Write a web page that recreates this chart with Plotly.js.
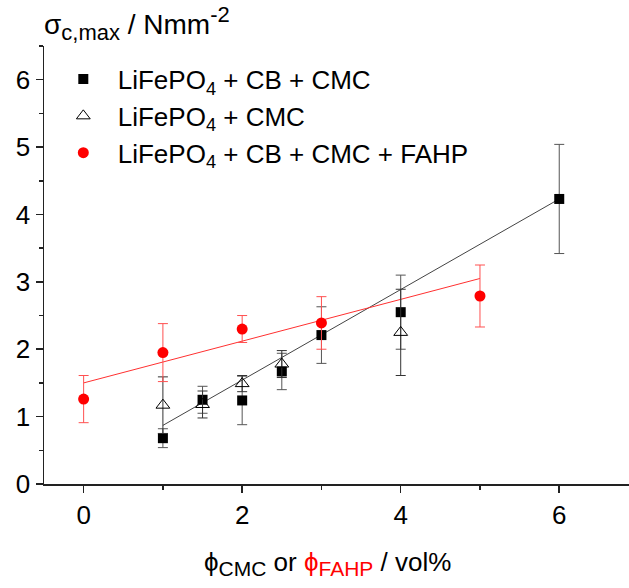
<!DOCTYPE html>
<html>
<head>
<meta charset="utf-8">
<script src="https://cdn.plot.ly/plotly-3.0.1.min.js"></script>
<style>html,body{margin:0;padding:0;background:#fff;}#chart{width:629px;height:588px;}</style>
</head>
<body>
<div id="chart"></div>
<script>
// LiFePO4 + CB + CMC (filled squares)
const sqX = [1, 1.5, 2, 2.5, 3, 4, 6];
const sqY = [0.68, 1.25, 1.24, 1.67, 2.21, 2.55, 4.23];
const sqErr = [0.14, 0.2, 0.36, 0.27, 0.42, 0.55, 0.81];

// LiFePO4 + CMC (open triangles)
const triX = [1, 1.5, 2, 2.5, 4];
const triY = [1.17, 1.18, 1.49, 1.78, 2.25];
const triErr = [0.42, 0.2, 0.12, 0.2, 0.64];

// LiFePO4 + CB + CMC + FAHP (red circles)
const redX = [0, 1, 2, 3, 5];
const redY = [1.26, 1.95, 2.30, 2.39, 2.79];
const redErr = [0.35, 0.43, 0.2, 0.39, 0.46];

// linear fits (end points)
const fitBlackX = [1, 6];
const fitBlackY = [0.87, 4.23];
const fitRedX = [0, 5];
const fitRedY = [1.50, 3.05];

const PAD = '\u00a0\u00a0';
const names = [
  PAD + 'LiFePO<sub>4</sub> + CB + CMC',
  PAD + 'LiFePO<sub>4</sub> + CMC',
  PAD + 'LiFePO<sub>4</sub> + CB + CMC + FAHP'
];

const FONT = 'Arial, "Liberation Sans", sans-serif';
const FS = 26;
const SUB = 'font-size:21px';
const TSUB = 'font-size:22px';

const traces = [
  {x: fitBlackX, y: fitBlackY, mode: 'lines', line: {color: '#444', width: 1}, showlegend: false, hoverinfo: 'skip'},
  {x: fitRedX, y: fitRedY, mode: 'lines', line: {color: '#ff3030', width: 1}, showlegend: false, hoverinfo: 'skip'},
  {x: sqX, y: sqY, name: names[0], mode: 'markers', legendgroup: 'a',
   marker: {symbol: 'square', size: 10, color: '#000'},
   error_y: {type: 'data', array: sqErr, visible: true, color: '#555', thickness: 1, width: 5}},
  {x: triX, y: triY, name: names[1], mode: 'markers', legendgroup: 'b',
   marker: {symbol: 'triangle-up-open', size: 12, color: '#000', line: {width: 1}},
   error_y: {type: 'data', array: triErr, visible: true, color: '#333', thickness: 1, width: 5}},
  {x: redX, y: redY, name: names[2], mode: 'markers', legendgroup: 'c',
   marker: {symbol: 'circle', size: 11, color: '#ff0000'},
   error_y: {type: 'data', array: redErr, visible: true, color: '#ff5050', thickness: 1, width: 5}}
];

const layout = {
  width: 629, height: 588,
  margin: {l: 44, r: 0, t: 46, b: 104},
  paper_bgcolor: '#fff', plot_bgcolor: '#fff',
  font: {family: FONT, size: FS, color: '#000'},
  showlegend: true,
  legend: {x: 0.033, y: 0.978, xanchor: 'left', yanchor: 'top', bgcolor: 'rgba(0,0,0,0)',
           font: {family: FONT, size: FS, color: '#000'}, tracegroupgap: 3, traceorder: 'normal'},
  xaxis: {
    range: [-0.5, 6.88], showgrid: false, zeroline: false,
    showline: true, linecolor: '#222', linewidth: 1.5,
    ticks: 'outside', ticklen: 7, tickwidth: 1.5, tickcolor: '#222',
    dtick: 2, tick0: 0,
    minor: {dtick: 1, tick0: 0, ticks: 'outside', ticklen: 4, tickwidth: 1.5, tickcolor: '#222', showgrid: false},
    tickfont: {family: FONT, size: FS, color: '#000'}
  },
  xaxis2: {
    overlaying: 'x', side: 'top', anchor: 'y', matches: 'x',
    range: [-0.5, 6.88], showgrid: false, zeroline: false,
    showline: true, linecolor: '#222', linewidth: 1.5,
    ticks: 'inside', ticklen: 7, tickwidth: 1.5, tickcolor: '#222',
    dtick: 2, tick0: 0, showticklabels: false,
    minor: {dtick: 1, tick0: 0, ticks: 'inside', ticklen: 4, tickwidth: 1.5, tickcolor: '#222', showgrid: false}
  },
  yaxis: {
    range: [0, 6.5], showgrid: false, zeroline: false,
    showline: true, linecolor: '#222', linewidth: 1.5,
    ticks: 'outside', ticklen: 7, tickwidth: 1.5, tickcolor: '#222',
    dtick: 1, tick0: 0,
    minor: {dtick: 0.5, tick0: 0, ticks: 'outside', ticklen: 4, tickwidth: 1.5, tickcolor: '#222', showgrid: false},
    tickfont: {family: FONT, size: FS, color: '#000'}
  },
  annotations: [
    {xref: 'paper', yref: 'paper', x: -0.004, y: 1.0, yshift: 23, xanchor: 'left', yanchor: 'middle',
     text: 'σ<sub><span style="' + TSUB + '">c,max</span></sub> / Nmm<sup><span style="' + TSUB + '">-2</span></sup>', showarrow: false,
     font: {family: FONT, size: 28, color: '#000'}},
    {xref: 'paper', yref: 'paper', x: 0.485, y: 0, yshift: -79, xanchor: 'center', yanchor: 'middle',
     text: '\u03d5<sub><span style="' + SUB + '">CMC</span></sub> or <span style="color:#ff0000">\u03d5<sub><span style="' + SUB + '">FAHP</span></sub></span> / vol%', showarrow: false,
     font: {family: FONT, size: FS, color: '#000'}}
  ]
};

Plotly.newPlot('chart', traces, layout, {displayModeBar: false, staticPlot: true});
</script>
</body>
</html>
